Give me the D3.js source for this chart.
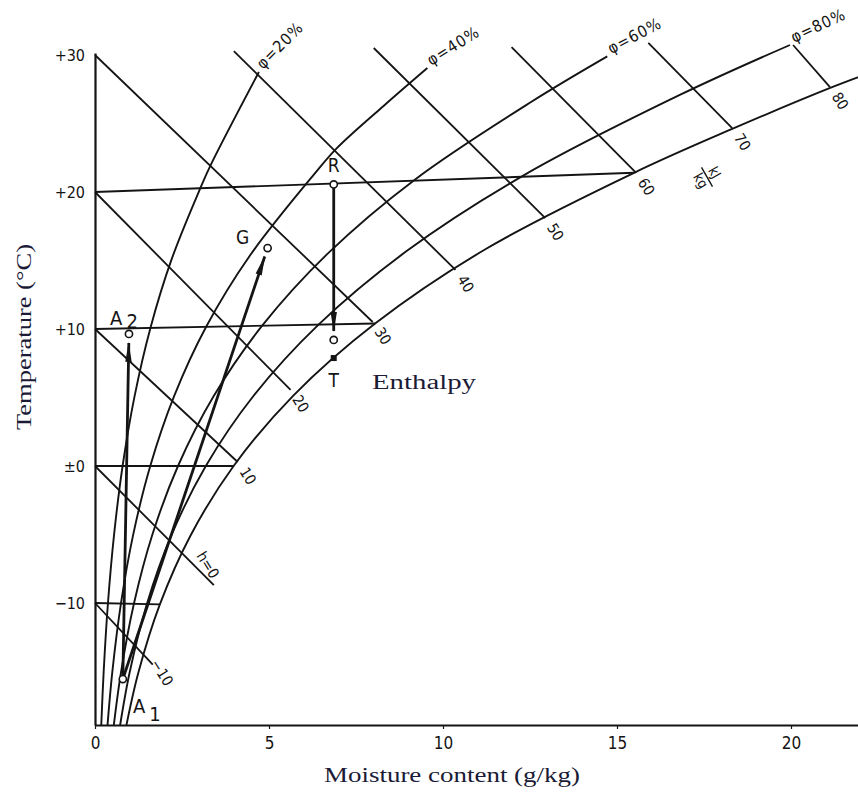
<!DOCTYPE html>
<html><head><meta charset="utf-8">
<script src="https://cdn.jsdelivr.net/npm/d3@7"></script>
<style>
html,body{margin:0;padding:0;background:#fff;}
svg{display:block;background:#fff;}
</style></head><body>
<svg id="chart" width="858" height="796"></svg>
<script>
// ---------- data (chart units: moisture g/kg, temperature-scale value) ----------
const xTicks = [0, 5, 10, 15, 20];
const yTicks = [30, 20, 10, 0, -10];
const yTickLabels = ["+30", "+20", "+10", "±0", "−10"];

const phiLevels = [20, 40, 60, 80, 100];
const phi20 = [[0.178,-19.02],[0.249,-15.02],[0.372,-10.02],[0.548,-5.01],[0.793,0],[1.132,5.03],[1.593,10.08],[2.213,15.17],[3.03,20.3],[3.33,22.0],[4.71,28.76]];
const phi40 = [[0.356,-19.03],[0.497,-15.04],[0.745,-10.04],[1.096,-5.03],[1.588,0],[2.268,5.06],[3.194,10.16],[4.443,15.33],[6.30,21.3],[6.95,23.2],[8.30,26.3],[9.55,29.05]];
const phi60 = [[0.534,-19.05],[0.747,-15.06],[1.118,-10.06],[1.645,-5.04],[2.385,0],[3.408,5.09],[4.804,10.24],[6.686,15.5],[9.199,20.92],[12.53,26.57],[14.72,29.9]];
const phi80 = [[0.712,-19.07],[0.995,-15.07],[1.491,-10.07],[2.196,-5.05],[3.184,0],[4.552,5.11],[6.424,10.32],[8.945,15.67],[12.33,21.23],[16.82,27.1],[19.97,30.73]];
const phi100 = [[0.89,-19.08],[1.245,-15.09],[1.864,-10.1],[2.746,-5.07],[3.983,0],[5.699,5.14],[8.049,10.4],[11.23,15.84],[15.49,21.4],[18.31,24.6],[21.18,27.65],[22.52,28.93]];
const phiCurves = [phi20, phi40, phi60, phi80, phi100];

const isoTemps = [20, 10, 0, -10];
const isoEndX = [15.49, 8.049, 3.983, 1.864];
const isoEndV = [21.4, 10.4, 0, -10.1];

const hValues = [-10, 0, 10, 20, 30, 40, 50, 60, 70, 80];
const hStartX = [0, 0, 0, 0, 0, 3.99, 8.01, 11.97, 15.90, 20.06];
const hStartV = [-10, 0, 10, 20, 30, 30.29, 30.51, 30.58, 30.88, 30.73];
const hEndX = [1.66, 3.415, 4.10, 5.62, 7.98, 10.36, 12.94, 15.55, 18.31, 21.12];
const hEndV = [-14.5, -8.69, 0.29, 5.55, 10.51, 14.31, 18.10, 21.39, 24.67, 27.66];

const pointNames = ["A1", "A2", "G", "R", "R2", "T"];
const pointX = [0.80, 0.976, 4.96, 6.86, 6.86, 6.86];
const pointV = [-15.55, 9.64, 15.91, 20.55, 9.2, 7.88];
const processFrom = ["A1", "A1", "R"];
const processTo = ["A2", "G", "R2"];

const xTitle = "Moisture content (g/kg)";
const yTitle = "Temperature (°C)";
const noteText = "Enthalpy";
const hUnit = ["kJ", "kg"];

// ---------- drawing ----------
const W = 858, H = 796;
const narrow = '"Liberation Sans Narrow","DejaVu Sans Condensed","Roboto Condensed",Roboto,sans-serif';
const serif = '"Liberation Serif","Times New Roman",serif';
const ink = "#141414";
const titleInk = "#1b1b36";

const x = d3.scaleLinear().domain([0, 20]).range([95, 791]);
const y = d3.scaleLinear().domain([0, 30]).range([466, 55]);
const vBottom = y.invert(725);

const svg = d3.select("#chart");
svg.append("rect").attr("width", W).attr("height", H).attr("fill", "#fff");

const defs = svg.append("defs");
defs.append("clipPath").attr("id", "plot")
  .append("rect").attr("x", x(0)).attr("y", 0).attr("width", W - x(0)).attr("height", y(vBottom));
defs.append("marker").attr("id", "ah")
  .attr("viewBox", "0 -4 20 8").attr("refX", 19).attr("refY", 0)
  .attr("markerWidth", 20).attr("markerHeight", 8).attr("markerUnits", "userSpaceOnUse")
  .attr("orient", "auto")
  .append("path").attr("d", "M0,-3.2L20,0L0,3.2Z").attr("fill", ink);

const plot = svg.append("g").attr("clip-path", "url(#plot)");
const line = d3.line().x(d => x(d[0])).y(d => y(d[1])).curve(d3.curveCatmullRom.alpha(0.5));

// relative humidity curves
phiCurves.forEach(c => {
  plot.append("path").attr("d", line(c)).attr("fill", "none")
    .attr("stroke", ink).attr("stroke-width", 1.9);
});

// isotherms
isoTemps.forEach((t, i) => {
  plot.append("line").attr("x1", x(0)).attr("y1", y(t)).attr("x2", x(isoEndX[i])).attr("y2", y(isoEndV[i]))
    .attr("stroke", ink).attr("stroke-width", 1.9);
});

// enthalpy lines
hValues.forEach((h, i) => {
  svg.append("line").attr("x1", x(hStartX[i])).attr("y1", y(hStartV[i]))
    .attr("x2", x(hEndX[i])).attr("y2", y(hEndV[i]))
    .attr("stroke", ink).attr("stroke-width", 1.8);
  const ex = x(hEndX[i]), ey = y(hEndV[i]);
  let lx = ex + 10, ly = ey + 14, txt = String(h).replace("-", "−");
  if (h === 0) { txt = "h=0"; lx = ex - 6; ly = ey - 20; }
  if (h === -10) { lx = ex + 9; ly = ey + 8; }
  svg.append("text").attr("transform", `translate(${lx},${ly}) rotate(58)`)
    .attr("text-anchor", "middle").attr("dominant-baseline", "central")
    .attr("font-family", narrow).attr("font-size", 15).attr("fill", ink).text(txt);
});

// phi labels
const phiAngles = [-45, -32, -28, -25];
phiLevels.forEach((p, i) => {
  if (p === 100) return;
  const c = phiCurves[i], e = c[c.length - 1];
  svg.append("text").attr("transform", `translate(${x(e[0]) + 4},${y(e[1]) - 2}) rotate(${phiAngles[i]})`)
    .attr("font-family", narrow).attr("font-size", 16).attr("letter-spacing", 1)
    .attr("fill", ink).text(`φ=${p}%`);
});

// unit label kJ/kg
const ug = svg.append("g").attr("transform", "translate(707,177) rotate(60)");
ug.append("text").attr("x", 0).attr("y", -4).attr("text-anchor", "middle")
  .attr("font-family", narrow).attr("font-size", 14).attr("fill", ink).text(hUnit[0]);
ug.append("line").attr("x1", -11).attr("x2", 11).attr("y1", 0).attr("y2", 0).attr("stroke", ink).attr("stroke-width", 1.4);
ug.append("text").attr("x", 0).attr("y", 12).attr("text-anchor", "middle")
  .attr("font-family", narrow).attr("font-size", 14).attr("fill", ink).text(hUnit[1]);

// axes
const xAxisScale = x.copy().domain([0, x.invert(W)]).range([x(0), W]);
const xAxis = svg.append("g").attr("transform", `translate(0,${y(vBottom)})`)
  .call(d3.axisBottom(xAxisScale).tickValues(xTicks).tickSize(4).tickSizeOuter(0).tickPadding(8).tickFormat(d3.format("d")));
xAxis.select(".domain").attr("stroke", ink).attr("stroke-width", 2.2);
xAxis.selectAll(".tick line").attr("stroke", ink).attr("stroke-width", 1.2);
xAxis.selectAll(".tick text").attr("font-family", narrow).attr("font-size", 17).attr("fill", ink);

const yAxisScale = y.copy().domain([vBottom, 30.15]).range([y(vBottom), y(30.15)]);
const yAxis = svg.append("g").attr("transform", `translate(${x(0)},0)`)
  .call(d3.axisLeft(yAxisScale).tickValues(yTicks).tickSize(0).tickSizeOuter(0).tickPadding(10)
    .tickFormat((d, i) => yTickLabels[i]));
yAxis.select(".domain").attr("stroke", ink).attr("stroke-width", 2.2);
yAxis.selectAll(".tick text").attr("font-family", narrow).attr("font-size", 16).attr("fill", ink);

// process arrows
const idx = n => pointNames.indexOf(n);
processFrom.forEach((f, i) => {
  const a = idx(f), b = idx(processTo[i]);
  const x1 = x(pointX[a]), y1 = y(pointV[a]), x2 = x(pointX[b]), y2 = y(pointV[b]);
  const len = Math.hypot(x2 - x1, y2 - y1), ux = (x2 - x1) / len, uy = (y2 - y1) / len;
  svg.append("line").attr("x1", x1).attr("y1", y1).attr("x2", x2 - ux * 9).attr("y2", y2 - uy * 9)
    .attr("stroke", ink).attr("stroke-width", 2.8).attr("marker-end", "url(#ah)");
});

// state points
pointNames.forEach((n, i) => {
  const cx = x(pointX[i]), cy = y(pointV[i]);
  if (n === "T") {
    svg.append("rect").attr("x", cx - 3).attr("y", cy - 3).attr("width", 6).attr("height", 6).attr("fill", ink);
  } else {
    svg.append("circle").attr("cx", cx).attr("cy", cy).attr("r", 3.6)
      .attr("fill", "#fff").attr("stroke", ink).attr("stroke-width", 1.6);
  }
});

// point labels
function lab(n, dx, dy, size) {
  const i = idx(n);
  return svg.append("text").attr("x", x(pointX[i]) + dx).attr("y", y(pointV[i]) + dy)
    .attr("font-family", narrow).attr("font-size", size).attr("fill", ink).attr("text-anchor", "middle");
}
lab("R", 0, -12, 19).text("R");
lab("T", 0, 29, 19).text("T");
lab("G", -25, -4, 19).text("G");
const a1 = lab("A1", 24, 34, 20);
a1.append("tspan").text("A");
a1.append("tspan").attr("dx", 4).attr("dy", 8).text("1");
const a2 = lab("A2", -5, -9, 20);
a2.append("tspan").text("A");
a2.append("tspan").attr("dx", 4).attr("dy", 3).text("2");

// annotation text
svg.append("text").attr("x", 372).attr("y", 389).attr("font-family", serif).attr("font-size", 20)
  .attr("fill", titleInk).attr("textLength", 104).attr("lengthAdjust", "spacingAndGlyphs").text(noteText);

// axis titles
svg.append("text").attr("x", 452).attr("y", 782).attr("text-anchor", "middle")
  .attr("font-family", serif).attr("font-size", 21).attr("fill", titleInk)
  .attr("textLength", 256).attr("lengthAdjust", "spacingAndGlyphs").text(xTitle);
svg.append("text").attr("transform", "translate(31,337) rotate(-90)").attr("text-anchor", "middle")
  .attr("font-family", serif).attr("font-size", 21).attr("fill", titleInk)
  .attr("textLength", 186).attr("lengthAdjust", "spacingAndGlyphs").text(yTitle);
</script>
</body></html>
